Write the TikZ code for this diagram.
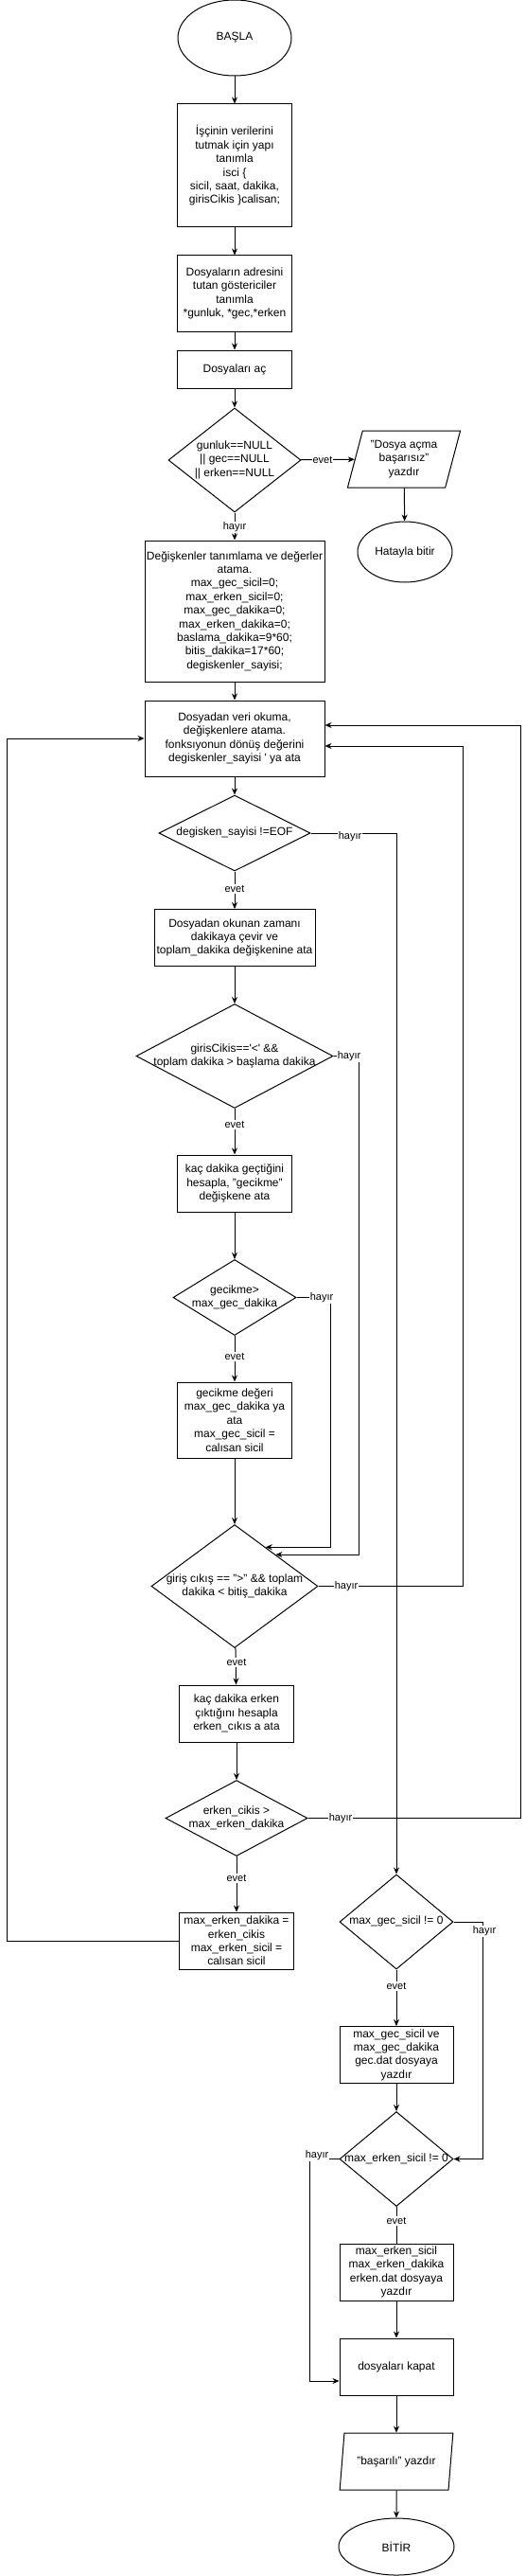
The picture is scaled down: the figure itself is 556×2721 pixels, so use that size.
\documentclass[tikz,border=0pt]{standalone}
\usepackage{fontspec}
\setmainfont{Liberation Sans}
\usetikzlibrary{shapes.geometric,arrows.meta,calc}

\newcommand{\dtxt}[1]{\smash{\raisebox{-.25em}{\makebox[0pt]{\begin{tabular}{@{}c@{}}#1\end{tabular}}}}}

\tikzset{
  box/.style={draw,rectangle,align=center,inner sep=0pt},
  dec/.style={draw,diamond,inner sep=0pt},
  io/.style={draw,trapezium,trapezium left angle=72,trapezium right angle=108,
    trapezium stretches=true,align=center,inner sep=0pt},
  term/.style={draw,ellipse,align=center,inner sep=0pt},
  lbl/.style={fill=white,inner sep=1pt,font=\fontsize{11}{13}\selectfont}
}

\begin{document}
\begin{tikzpicture}[x=1pt,y=-1pt,line width=1pt,>={Stealth[length=7pt,width=6pt]},
  font=\fontsize{12}{14.4}\selectfont]
\useasboundingbox (0,0) rectangle (556,2721);

% main column
\node[term,minimum width=120,minimum height=80] (start) at (248,40) {BAŞLA};
\node[box,minimum width=121,minimum height=130] (b1) at (248,175)
  {İşçinin verilerini\\tutmak için yapı\\tanımla\\isci \{\\sicil, saat, dakika,\\girisCikis \}calisan;};
\node[box,minimum width=121,minimum height=80] (b2) at (248,310)
  {Dosyaların adresini\\tutan göstericiler\\tanımla\\*gunluk, *gec,*erken};
\node[box,minimum width=121,minimum height=40] (b3) at (248,390) {Dosyaları aç};
\node[dec,minimum width=140,minimum height=110] (d1) at (248,486)
  {\dtxt{gunluk==NULL\\|| gec==NULL\\|| erken==NULL}};
\node[io,minimum width=120,minimum height=60] (p1) at (427,485)
  {"Dosya açma\\başarısız"\\yazdır};
\node[term,minimum width=100,minimum height=64] (e1) at (428,583) {Hatayla bitir};
\node[box,minimum width=190,minimum height=149] (b4) at (248,645.5)
  {Değişkenler tanımlama ve değerler\\atama.\\max\_gec\_sicil=0;\\max\_erken\_sicil=0;\\max\_gec\_dakika=0;\\max\_erken\_dakika=0;\\baslama\_dakika=9*60;\\bitis\_dakika=17*60;\\degiskenler\_sayisi;};
\node[box,minimum width=190,minimum height=80] (b5) at (248,780)
  {Dosyadan veri okuma,\\değişkenlere atama.\\fonksıyonun dönüş değerini\\degiskenler\_sayisi \textquotesingle{} ya ata};
\node[dec,minimum width=160,minimum height=80] (d2) at (248,880)
  {\dtxt{degisken\_sayisi !=EOF}};
\node[box,minimum width=170,minimum height=60] (b6) at (248,990.5)
  {Dosyadan okunan zamanı\\dakikaya çevir ve\\toplam\_dakika değişkenine ata};
\node[dec,minimum width=208,minimum height=110] (d3) at (248,1115.5)
  {\dtxt{girisCikis==\textquotesingle<\textquotesingle{} \&\&\\toplam dakika > başlama dakika}};
\node[box,minimum width=121,minimum height=60] (b7) at (248,1250)
  {kaç dakika geçtiğini\\hesapla, "gecikme"\\değişkene ata};
\node[dec,minimum width=130,minimum height=80] (d4) at (248,1370.5)
  {\dtxt{gecikme>\\max\_gec\_dakika}};
\node[box,minimum width=121,minimum height=80] (b8) at (248,1500)
  {gecikme değeri\\max\_gec\_dakika ya\\ata\\max\_gec\_sicil =\\calısan sicil};
\node[dec,minimum width=176,minimum height=130] (d5) at (248,1675.5)
  {\dtxt{giriş cıkış == ">" \&\& toplam\\dakika < bitiş\_dakika}};
\node[box,minimum width=121,minimum height=60] (b9) at (250,1810)
  {kaç dakika erken\\çıktığını hesapla\\erken\_cıkıs a ata};
\node[dec,minimum width=150,minimum height=80] (d6) at (250,1920.5)
  {\dtxt{erken\_cikis >\\max\_erken\_dakika}};
\node[box,minimum width=121,minimum height=60] (b10) at (250,2050)
  {max\_erken\_dakika =\\erken\_cikis\\max\_erken\_sicil =\\calısan sicil};

% output column
\node[dec,minimum width=120,minimum height=100] (d7) at (419,2030) {\dtxt{max\_gec\_sicil != 0}};
\node[box,minimum width=120,minimum height=60] (b11) at (419,2170.5)
  {max\_gec\_sicil ve\\max\_gec\_dakika\\gec.dat dosyaya\\yazdır};
\node[dec,minimum width=120,minimum height=100] (d8) at (419,2280.5) {\dtxt{max\_erken\_sicil != 0}};
\node[box,minimum width=120,minimum height=60] (b12) at (419,2400)
  {max\_erken\_sicil\\max\_erken\_dakika\\erken.dat dosyaya\\yazdır};
\node[box,minimum width=120,minimum height=60] (b13) at (419,2500) {dosyaları kapat};
\node[io,minimum width=120,minimum height=60] (p2) at (419,2600) {"başarılı" yazdır};
\node[term,minimum width=122,minimum height=60] (e2) at (419,2690) {BİTİR};

% points where the side arrows hit d5
\coordinate (d5a) at ($(d5.north)!0.37!(d5.east)$);
\coordinate (d5b) at ($(d5.north)!0.49!(d5.east)$);

% straight flow
\draw[->] (start) -- (b1);
\draw[->] (b1) -- (b2);
\draw[->] (b2) -- (b3);
\draw[->] (b3) -- (d1);
\draw[->] (d1) -- (p1);
\draw[->] (p1) -- (e1);
\draw[->] (d1) -- (b4);
\draw[->] (b4) -- (b5);
\draw[->] (b5) -- (d2);
\draw[->] (d2) -- (b6);
\draw[->] (b6) -- (d3);
\draw[->] (d3) -- (b7);
\draw[->] (b7) -- (d4);
\draw[->] (d4) -- (b8);
\draw[->] (b8) -- (d5);
\draw[->] (d5) -- (b9);
\draw[->] (b9) -- (d6);
\draw[->] (d6) -- (b10);
\draw[->] (d7) -- (b11);
\draw[->] (b11) -- (d8);
\draw (d8) -- (b12);
\draw[->] (b12) -- (b13);
\draw[->] (b13) -- (p2);
\draw[->] (p2) -- (e2);

% side branches and loops
\draw[->] (d2.east) -| (d7.north);
\draw[->] (d3.east) -- ++(27,0) |- (d5b);
\draw[->] (d4.east) -- ++(36,0) |- (d5a);
\draw[->] (d5.east) -- ++(153,0) |- ([yshift=-8pt]b5.east);
\draw[->] (d6.east) -- ++(225,0) |- ([yshift=14pt]b5.east);
\draw[->] (b10.west) -- ++(-182,0) |- (b5.west);
\draw[->] (d7.east) -- ++(31,0) |- (d8.east);
\draw[->] (d8.west) -- ++(-31,0) |- ([yshift=-15pt]b13.west);

% edge labels
\node[lbl] (l1) at (341,486) {evet};
\node[lbl] (l2) at (248,557) {hayır};
\node[lbl] (l3) at (370,884) {hayır};
\node[lbl] (l4) at (248,939) {evet};
\node[lbl] (l5) at (369,1116) {hayır};
\node[lbl] (l6) at (248,1188) {evet};
\node[lbl] (l7) at (340,1371) {hayır};
\node[lbl] (l8) at (248,1433) {evet};
\node[lbl] (l9) at (366,1676) {hayır};
\node[lbl] (l10) at (250,1756) {evet};
\node[lbl] (l11) at (360,1921) {hayır};
\node[lbl] (l12) at (250,1984) {evet};
\node[lbl] (l13) at (512,2040) {hayır};
\node[lbl] (l14) at (419,2098) {evet};
\node[lbl] (l15) at (335,2277) {hayır};
\node[lbl] (l16) at (419,2346) {evet};
\end{tikzpicture}
\end{document}
